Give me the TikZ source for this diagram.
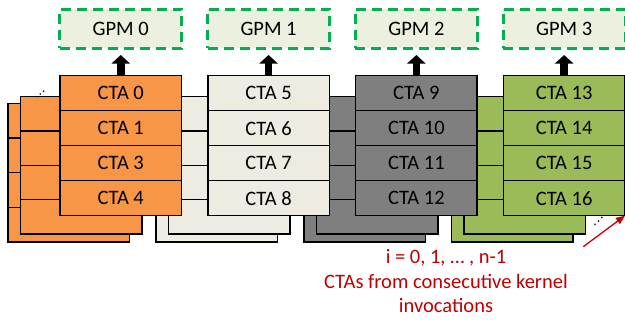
\documentclass[tikz,border=0pt]{standalone}
\usepackage{fontspec}
\setmainfont{Carlito}
\usetikzlibrary{arrows.meta}
\definecolor{ctaorange}{HTML}{F79646}
\definecolor{ctabeige}{HTML}{EEECE1}
\definecolor{ctagray}{HTML}{7F7F7F}
\definecolor{ctagreen}{HTML}{9BBB59}
\definecolor{gpmfill}{HTML}{EBF1DE}
\definecolor{gpmborder}{HTML}{00B050}
\definecolor{notered}{HTML}{C00000}
\tikzset{
  cell/.style={draw=black, line width=1.5pt, minimum width=121.5pt, inner sep=0pt, outer sep=0pt,
    anchor=north west, font=\fontsize{20.5}{24.5}\selectfont, text=black},
  gpmbox/.style={draw=gpmborder, fill=gpmfill, line width=2.8pt, dash pattern=on 10pt off 6pt,
    minimum width=122pt, minimum height=39pt, inner sep=0pt, outer sep=0pt, font=\fontsize{20.5}{24.5}\selectfont},
  uparrow/.style={line width=7.5pt, -{Triangle[length=8.5pt,width=18pt]}, shorten >=6.7pt},
  redarrow/.style={draw=notered, line width=1.3pt, -{Triangle[length=9pt,width=7.5pt]}},
  note/.style={text=notered, font=\fontsize{20.5}{24.5}\selectfont, anchor=base, inner sep=0pt},
  dotmark/.style={fill=black}
}
\begin{document}
\begin{tikzpicture}[x=1pt,y=-1pt]
\useasboundingbox (0,0) rectangle (625,322);
% third (back) layers
\foreach \g/\col in {0/ctaorange,1/ctabeige,2/ctagray,3/ctagreen} {
  \pgfmathsetmacro\xl{60+147.8*\g}
  \foreach \r in {0,...,3}
    \node[cell, fill=\col, minimum height=34.7pt] (t\g\r) at (\xl-51.8, 103.3+34.7*\r) {};
}
% second layers
\foreach \g/\col in {0/ctaorange,1/ctabeige,2/ctagray,3/ctagreen} {
  \pgfmathsetmacro\xl{60+147.8*\g}
  \foreach \r in {0,...,3}
    \node[cell, fill=\col, minimum height=34.3pt] (s\g\r) at (\xl-39.3, 96.7+34.3*\r) {};
}
% front layers with labels
\foreach \g/\col/\a/\b/\c/\d in {0/ctaorange/0/1/3/4,1/ctabeige/5/6/7/8,2/ctagray/9/10/11/12,3/ctagreen/13/14/15/16} {
  \pgfmathsetmacro\xl{60+147.8*\g}
  \foreach \r/\n in {0/\a,1/\b,2/\c,3/\d}
    \node[cell, fill=\col, minimum height=35pt] (f\g\r) at (\xl, 75.7+35*\r) {CTA \n};
  \node[gpmbox] (gpm\g) at (\xl+60.75, 28.8) {GPM \g};
  \draw[uparrow] (f\g0.north) -- (gpm\g.south);
}
% ellipsis dots
\fill[dotmark] (37,96.8) circle (0.9pt) (40.3,94) circle (0.9pt) (43.6,91.2) circle (0.9pt);
\fill[dotmark] (595,224.3) circle (0.9pt) (598.4,221) circle (0.9pt) (601.8,217.4) circle (0.9pt);
% red note
\coordinate (tail) at (583.3,246.7);
\draw[redarrow] (tail) -- (f33.south east);
\node[note] (l1) at (446,263.3) {i = 0, 1, … , n-1};
\node[note] (l2) at (446,288.3) {CTAs from consecutive kernel};
\node[note] (l3) at (446,312.7) {invocations};
\end{tikzpicture}
\end{document}
